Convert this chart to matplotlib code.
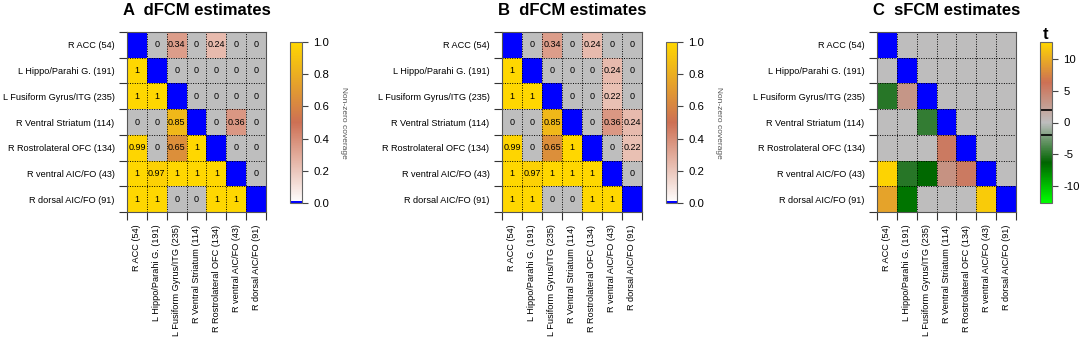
import numpy as np
import matplotlib
matplotlib.use("Agg")
import matplotlib.pyplot as plt
from matplotlib.colors import LinearSegmentedColormap, ListedColormap, Normalize
from matplotlib.cm import ScalarMappable

plt.rcParams['font.family'] = ['Liberation Sans', 'DejaVu Sans']
plt.rcParams['axes.unicode_minus'] = False

nan = np.nan
regions = ["R ACC (54)", "L Hippo/Parahi G. (191)", "L Fusiform Gyrus/ITG (235)",
           "R Ventral Striatum (114)", "R Rostrolateral OFC (134)",
           "R ventral AIC/FO (43)", "R dorsal AIC/FO (91)"]

coverage_A = [
    [nan, 0, 0.34, 0, 0.24, 0, 0],
    [1, nan, 0, 0, 0, 0, 0],
    [1, 1, nan, 0, 0, 0, 0],
    [0, 0, 0.85, nan, 0, 0.36, 0],
    [0.99, 0, 0.65, 1, nan, 0, 0],
    [1, 0.97, 1, 1, 1, nan, 0],
    [1, 1, 0, 0, 1, 1, nan],
]
coverage_B = [
    [nan, 0, 0.34, 0, 0.24, 0, 0],
    [1, nan, 0, 0, 0, 0.24, 0],
    [1, 1, nan, 0, 0, 0.22, 0],
    [0, 0, 0.85, nan, 0, 0.36, 0.24],
    [0.99, 0, 0.65, 1, nan, 0, 0.22],
    [1, 0.97, 1, 1, 1, nan, 0],
    [1, 1, 0, 0, 1, 1, nan],
]
t_values = [
    [nan, 0, 0, 0, 0, 0, 0],
    [0, nan, 0, 0, 0, 0, 0],
    [-5.0, 3.2, nan, 0, 0, 0, 0],
    [0, 0, -4.6, nan, 0, 0, 0],
    [0, 0, 0, 5.5, nan, 0, 0],
    [12.5, -5.0, -6.5, 3.5, 5.5, nan, 0],
    [9.5, -7.0, 0, 0, 0, 12.0, nan],
]
panel_letters = ["A", "B", "C"]
panel_titles = ["dFCM estimates", "dFCM estimates", "sFCM estimates"]
coverage_ticks = [0.0, 0.2, 0.4, 0.6, 0.8, 1.0]
t_ticks = [-10, -5, 0, 5, 10]
t_threshold = 1.97
t_limit = 12.7

GRAY = "#BEBEBE"
BLUE = "#0000FF"
cov_cmap = LinearSegmentedColormap.from_list("cov", ["#FFFFFF", "#CD7054", "#FFD700"])
t_cmap = LinearSegmentedColormap.from_list("tc", ["#00FF00", "#006400", GRAY, "#CD7054", "#FFD700"])

W, H = 1084, 340
fig = plt.figure(figsize=(W / 100, H / 100), dpi=100)

def px_axes(x0, y0, x1, y1):
    return fig.add_axes([x0 / W, 1 - y1 / H, (x1 - x0) / W, (y1 - y0) / H])

mat_boxes = [(127, 32, 266, 212), (502, 32, 642, 212), (877, 32, 1016, 212)]
cbar_boxes = [(290, 42, 302, 203), (666, 42, 677, 203), (1040, 42, 1052, 203)]

def style_matrix(ax, n):
    ax.set_xlim(-0.5, n - 0.5)
    ax.set_ylim(n - 0.5, -0.5)
    ax.set_xticks(range(n))
    ax.set_xticklabels(regions, rotation=90, fontsize=6.6)
    ax.set_yticks(range(n))
    ax.set_yticklabels(regions, fontsize=6.6)
    ax.set_xticks(np.arange(n + 1) - 0.5, minor=True)
    ax.set_yticks(np.arange(n + 1) - 0.5, minor=True)
    ax.tick_params(which="major", length=0, pad=9)
    ax.tick_params(which="minor", length=5.5, width=0.8, color="#333333")
    ax.grid(which="minor", color="black", linestyle=(0, (1, 1.5)), linewidth=0.7)
    ax.grid(which="major", visible=False)
    for s in ax.spines.values():
        s.set_edgecolor("#555555")
        s.set_linewidth(0.8)

for k in range(3):
    ax = px_axes(*mat_boxes[k])
    n = len(regions)
    if k < 2:
        data = np.array([coverage_A, coverage_B][k], float)
        pos = np.ma.masked_where(~(data > 0), data)
        ax.imshow(pos, cmap=cov_cmap, vmin=0, vmax=1, aspect="auto", interpolation="nearest")
        zeros = np.ma.masked_where(~(data == 0), np.ones_like(data))
        ax.imshow(zeros, cmap=ListedColormap([GRAY]), aspect="auto", interpolation="nearest")
        for i in range(n):
            for j in range(n):
                v = data[i, j]
                if not np.isnan(v):
                    ax.text(j, i, f"{v:g}", ha="center", va="center", fontsize=6.5, color="black")
    else:
        data = np.array(t_values, float)
        shown = np.where(np.abs(data) < t_threshold, 0.0, data)
        shown = np.ma.masked_invalid(shown)
        ax.imshow(shown, cmap=t_cmap, vmin=-t_limit, vmax=t_limit, aspect="auto", interpolation="nearest")
    diag = np.ma.masked_where(~np.isnan(data), np.ones_like(data))
    ax.imshow(diag, cmap=ListedColormap([BLUE]), aspect="auto", interpolation="nearest")
    style_matrix(ax, n)

    p = ax.get_position()
    fig.text(p.x0 + p.width / 2, 1 - 15 / H, f"{panel_letters[k]}  {panel_titles[k]}",
             ha="center", va="baseline", fontsize=12, fontweight="bold")

    cax = px_axes(*cbar_boxes[k])
    if k < 2:
        sm = ScalarMappable(norm=Normalize(0, 1), cmap=cov_cmap)
        cb = fig.colorbar(sm, cax=cax, ticks=coverage_ticks, format="%.1f")
        cax.axhspan(coverage_ticks[0], coverage_ticks[0] + 0.012, color=BLUE, lw=0)
        cb.set_label("Non-zero coverage", rotation=270, fontsize=6, color="#555555", labelpad=13)
    else:
        sm = ScalarMappable(norm=Normalize(-t_limit, t_limit), cmap=t_cmap)
        cb = fig.colorbar(sm, cax=cax, ticks=t_ticks)
        cax.axhline(t_threshold, color="black", lw=1.2)
        cax.axhline(-t_threshold, color="black", lw=1.2)
        cax.set_title("t", fontsize=12, fontweight="bold", pad=1)
    cb.outline.set_edgecolor("#666666")
    cb.outline.set_linewidth(0.8)
    cax.tick_params(length=4, width=0.8, color="#444444", labelsize=8.2, pad=4)

fig.savefig("out.png", dpi=100)
